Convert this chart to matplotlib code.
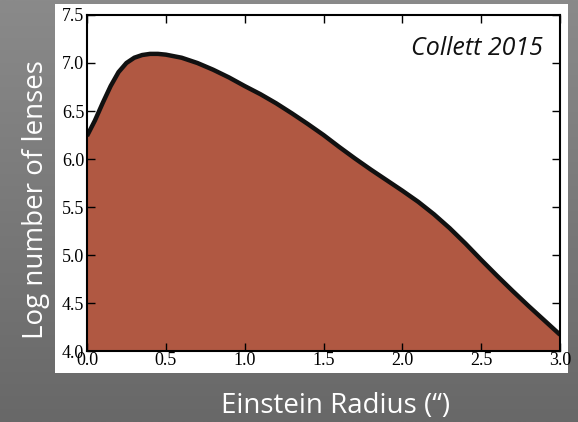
import numpy as np
import matplotlib
matplotlib.use("Agg")
import matplotlib.pyplot as plt
from matplotlib.patches import Rectangle

# curve (Collett 2015 lens population)
einstein_radius = [0.0, 0.05, 0.1, 0.15, 0.2, 0.25, 0.3, 0.35, 0.4, 0.45, 0.5,
                   0.6, 0.7, 0.8, 0.9, 1.0, 1.1, 1.2, 1.3, 1.4, 1.5, 1.6, 1.7,
                   1.8, 1.9, 2.0, 2.1, 2.2, 2.3, 2.4, 2.5, 2.6, 2.7, 2.8, 2.9, 3.0]
log_lenses = [6.24, 6.40, 6.585, 6.76, 6.905, 7.0, 7.055, 7.083, 7.095, 7.095, 7.087,
              7.055, 7.0, 6.93, 6.85, 6.76, 6.675, 6.58, 6.475, 6.365, 6.25, 6.125, 6.005,
              5.89, 5.78, 5.67, 5.555, 5.425, 5.28, 5.12, 4.95, 4.785, 4.625, 4.47, 4.32, 4.17]
x_ticks = [0.0, 0.5, 1.0, 1.5, 2.0, 2.5, 3.0]
y_ticks = [4.0, 4.5, 5.0, 5.5, 6.0, 6.5, 7.0, 7.5]

fig = plt.figure(figsize=(5.78, 4.22), dpi=100)

# grey slide background with a soft vertical gradient
bg = fig.add_axes([0, 0, 1, 1], zorder=-10)
grad = np.linspace(0, 1, 256).reshape(-1, 1)
bg.imshow(grad, aspect="auto", cmap=matplotlib.colors.LinearSegmentedColormap.from_list(
    "slide", ["#8a8a8a", "#686868"]), extent=[0, 1, 0, 1])
bg.axis("off")

# white panel behind the pasted plot
fig.patches.append(Rectangle((0.095, 0.116), 0.888, 0.875, transform=fig.transFigure,
                             facecolor="white", edgecolor="none", zorder=-5))

ax = fig.add_axes([0.1505, 0.168, 0.8185, 0.7965])
ax.set_facecolor("white")
ax.fill_between(einstein_radius, log_lenses, 4.0, color="#b05842", linewidth=0)
ax.plot(einstein_radius, log_lenses, color="#111111", linewidth=3.2,
        solid_joinstyle="round", solid_capstyle="butt")

ax.set_xlim(0, 3)
ax.set_ylim(4, 7.5)
ax.set_xticks(x_ticks)
ax.set_yticks(y_ticks)
ax.set_xticklabels([f"{v:.1f}" for v in x_ticks])
ax.set_yticklabels([f"{v:.1f}" for v in y_ticks])
ax.tick_params(direction="in", top=True, right=True, length=6, width=1,
               labelsize=13)
ax.tick_params(axis="x", pad=1)
ax.tick_params(axis="y", pad=2)
for lab in ax.get_xticklabels() + ax.get_yticklabels():
    lab.set_family("Liberation Serif")
for sp in ax.spines.values():
    sp.set_linewidth(1.5)

ax.text(0.964, 0.881, "Collett 2015", transform=ax.transAxes, ha="right",
        va="baseline", fontsize=18, style="italic", family="Open Sans",
        color="#111111")

fig.text(0.58, 0.0213, "Einstein Radius (\u201c)", ha="center", va="baseline",
         fontsize=20, family="Open Sans", color="white")
fig.text(0.0744, 0.526, "Log number of lenses", ha="center", va="baseline",
         rotation=90, rotation_mode="anchor", fontsize=20, family="Open Sans",
         color="white")

fig.savefig("out.png", dpi=100)
